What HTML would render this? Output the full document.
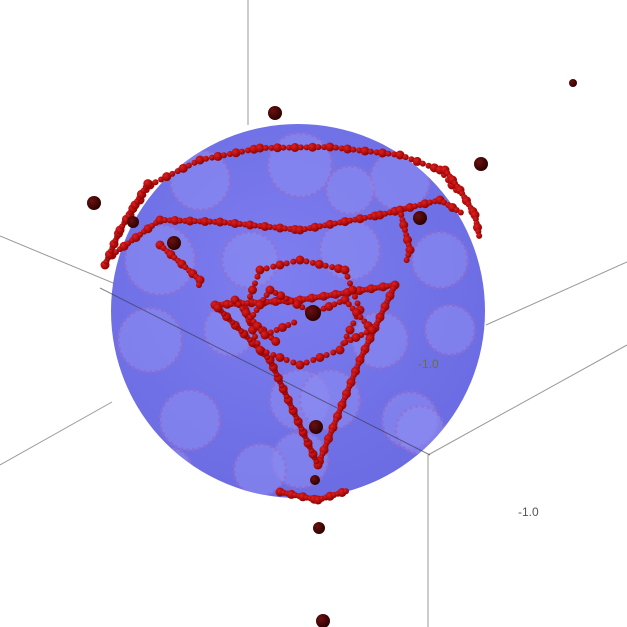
<!DOCTYPE html>
<html><head><meta charset="utf-8"><style>
html,body{margin:0;padding:0;background:#fff;width:627px;height:627px;overflow:hidden;font-family:"Liberation Sans",sans-serif}
</style></head><body>
<svg id="chart" width="627" height="627" viewBox="0 0 627 627" xmlns="http://www.w3.org/2000/svg">
<defs>
<radialGradient id="sg" cx="0.45" cy="0.4" r="0.65">
<stop offset="0" stop-color="#7e7ef0"/><stop offset="1" stop-color="#6a6ae2"/>
</radialGradient>
<radialGradient id="rd" cx="0.35" cy="0.35" r="0.7"><stop offset="0" stop-color="#e02020"/><stop offset="1" stop-color="#8a0000"/></radialGradient>
<radialGradient id="dk" cx="0.35" cy="0.35" r="0.7"><stop offset="0" stop-color="#6a1010"/><stop offset="1" stop-color="#2a0000"/></radialGradient>
<clipPath id="sc"><circle cx="298" cy="311" r="187"/></clipPath>
</defs>
<g id="box" stroke="#999" stroke-width="1" fill="none">
<line x1="248" y1="0" x2="248" y2="125"/>
<line x1="0" y1="236" x2="130" y2="290"/>
<line x1="0" y1="465" x2="112" y2="402"/>
<line x1="428" y1="455" x2="428" y2="627"/>
<line x1="428" y1="455" x2="627" y2="345"/>
<line x1="486" y1="325" x2="627" y2="262"/>
</g>
<circle cx="298" cy="311" r="187" fill="url(#sg)"/>
<g id="ghost" clip-path="url(#sc)"></g>
<line x1="100" y1="288" x2="430" y2="455" stroke="#334" stroke-width="1" opacity="0.6"/>
<g id="marks"></g>
<text x="418" y="368" font-size="12" fill="#6b7040">-1.0</text>
<text x="518" y="516" font-size="12" fill="#555">-1.0</text>
</svg>
<script>
// Pale circles visible through the translucent sphere
const ghostX = [200,300,400,160,250,350,440,150,230,300,380,450,190,300,410,260,350,330,170,420];
const ghostY = [180,165,180,260,260,250,260,340,330,400,340,330,420,460,420,470,190,400,470,430];
const ghostR = [30,32,30,35,28,30,28,32,26,30,28,25,30,28,28,26,24,30,22,24];
// Red bead chains (image-coordinate vertices of the visible bead curves)
const chainTop = [[130,215],[150,185],[200,160],[260,148],[330,147],[400,155],[440,170],[460,195]];
const chainBand = [[112,255],[160,220],[220,222],[300,230],[380,215],[440,200],[465,215]];
const chainTri = [[215,305],[300,300],[395,285],[360,360],[318,465],[270,360],[215,305]];
const chainLeft = [[160,245],[200,280],[198,290]];
const chainRight = [[400,210],[410,250],[405,265]];
const chainBottom = [[280,492],[318,500],[350,490]];
const chainRim = [[105,265],[120,230],[135,205],[150,180]];
const chainRimR = [[445,170],[460,190],[475,215],[480,240]];
const innerRing = [[260,270],[300,260],[345,270],[360,310],[340,350],[300,365],[260,350],[245,310],[260,270]];
const chainSpoke1 = [[313,313],[270,290],[250,320],[280,345]];
const chainSpoke2 = [[313,313],[345,300],[372,330],[340,345]];
const chainSpoke3 = [[235,300],[265,335],[300,320]];
const chains = [chainTop, chainBand, chainTri, chainLeft, chainRight, chainBottom, chainRim, chainRimR, innerRing, chainSpoke1, chainSpoke2, chainSpoke3];
const beadSpacing = [6, 5, 4, 5, 5, 4, 4, 4, 7, 6, 6, 6];
// Dark large points
const darkX = [275,573,481,94,174,420,313,316,319,323,133,315];
const darkY = [113,83,164,203,243,218,313,427,528,621,222,480];
const darkR = [7,4,7,7,7,7,8,7,6,7,6,5];
const NS = 'http://www.w3.org/2000/svg';
const gh = document.getElementById('ghost');
ghostX.forEach((x, i) => {
  const c = document.createElementNS(NS, 'circle');
  
  
  c.setAttribute('cx', x);
  c.setAttribute('cy', ghostY[i]);
  c.setAttribute('r', ghostR[i]);
  c.setAttribute('fill', '#8c8cf2');
  c.setAttribute('stroke', '#9a6fc8');
  c.setAttribute('stroke-width', '3');
  c.setAttribute('stroke-dasharray', '3 3');
  c.setAttribute('opacity', '0.6');
  gh.appendChild(c);
});
const g = document.getElementById('marks');
chains.forEach((c, ci) => {
  for (let i = 0; i < c.length - 1; i++) {
    const [x1,y1] = c[i], [x2,y2] = c[i+1];
    const len = Math.hypot(x2-x1, y2-y1);
    const n = Math.max(1, Math.round(len / beadSpacing[ci]));
    for (let k = 0; k < n; k++) {
      const t = k / n;
      const b = document.createElementNS(NS, 'circle');
      
      
      b.setAttribute('cx', x1 + (x2-x1)*t);
      b.setAttribute('cy', y1 + (y2-y1)*t);
      b.setAttribute('r', (k % 3 === 0) ? 4.5 : 3);
      b.setAttribute('fill', 'url(#rd)');
      g.appendChild(b);
    }
  }
});
darkX.forEach((x, i) => {
  const d = document.createElementNS(NS, 'circle');
  
  
  d.setAttribute('cx', x);
  d.setAttribute('cy', darkY[i]);
  d.setAttribute('r', darkR[i]);
  d.setAttribute('fill', 'url(#dk)');
  g.appendChild(d);
});
</script>
</body></html>
